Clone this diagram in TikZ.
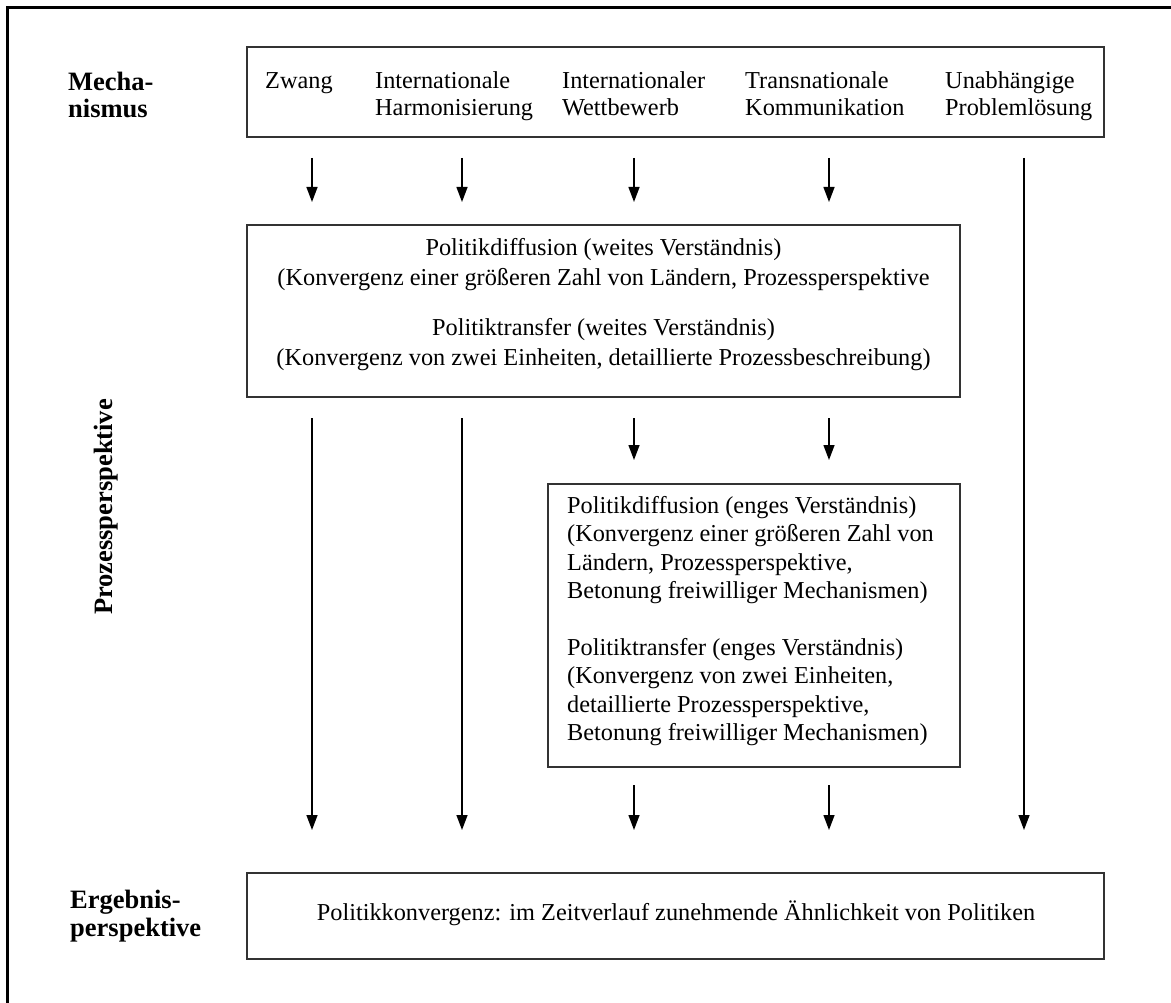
\documentclass[tikz,border=0pt]{standalone}
\usepackage{fontspec}
\setmainfont{Liberation Serif}
\usetikzlibrary{arrows.meta}
\newcommand\fsz{\fontsize{24.3}{28.4}\selectfont}
\newcommand\fszm{\fontsize{24.3}{27}\selectfont}
\newcommand\fszw{\fontsize{24.3}{30}\selectfont}
\newcommand\fszb{\fontsize{26.5}{27.5}\selectfont\bfseries}
\begin{document}
\begin{tikzpicture}[x=1pt,y=-1pt,
  box/.style={draw=black!80, line width=1.3pt, inner sep=0pt, fill=white},
  txt/.style={font=\fsz, align=left, inner sep=0pt, anchor=west},
  mtxt/.style={font=\fszm, align=left, inner sep=0pt, anchor=west},
  lbl/.style={font=\fszb, align=left, inner sep=0pt, anchor=west},
  arr/.style={line width=1.4pt, -{Triangle[length=15pt,width=11pt]}}]
\useasboundingbox (0,0) rectangle (1171,1003);
\draw[line width=3pt] (7,1010) -- (7,8) -- (1180,8);

% boxes
\node[box, minimum width=857pt, minimum height=90pt] (mech) at (675.5,92) {};
\node[box, minimum width=713pt, minimum height=172pt] (wide) at (603.5,311) {};
\node[box, minimum width=412pt, minimum height=283pt] (narrow) at (754,625.5) {};
\node[box, minimum width=857pt, minimum height=86pt] (res) at (675.5,916) {};

% row labels
\node[lbl] (lmech) at (68,95) {Mecha-\\nismus};
\node[lbl, anchor=center, rotate=90] (lproc) at (106,507) {Prozessperspektive};
\node[lbl] (lres) at (70,916) {Ergebnis-\\perspektive};

% mechanisms
\node[mtxt] (m1) at (265,97) {\strut Zwang\\\strut};
\node[mtxt] (m2) at (375,97) {\strut Internationale\\\strut Harmonisierung};
\node[mtxt] (m3) at (562,97) {\strut Internationaler\\\strut Wettbewerb};
\node[mtxt] (m4) at (745,97) {\strut Transnationale\\\strut Kommunikation};
\node[mtxt] (m5) at (945,97) {\strut Unabhängige\\\strut Problemlösung};

% wide box text
\node[txt, font=\fszw, align=center, anchor=center] (wt) at (603.5,304.5) {Politikdiffusion (weites Verständnis)\\(Konvergenz einer größeren Zahl von Ländern, Prozessperspektive\\[20pt]Politiktransfer (weites Verständnis)\\(Konvergenz von zwei Einheiten, detaillierte Prozessbeschreibung)};

% narrow box text
\node[txt] (nt) at (567,621) {Politikdiffusion (enges Verständnis)\\(Konvergenz einer größeren Zahl von\\Ländern, Prozessperspektive,\\Betonung freiwilliger Mechanismen)\\[28.4pt]Politiktransfer (enges Verständnis)\\(Konvergenz von zwei Einheiten,\\detaillierte Prozessperspektive,\\Betonung freiwilliger Mechanismen)};

% result text
\node[txt, anchor=center] (rt) at (676,913) {Politikkonvergenz: im Zeitverlauf zunehmende Ähnlichkeit von Politiken};

% arrow coordinates
\foreach \n/\x in {1/312,2/462,3/634,4/829,5/1024}{
  \coordinate (a\n s) at (\x,158);
  \coordinate (a\n e) at (\x,202);
  \coordinate (b\n s) at (\x,418);
  \coordinate (b\n e) at (\x,460);
  \coordinate (c\n s) at (\x,785);
  \coordinate (c\n e) at (\x,830);
}
% row 1
\draw[arr] (a1s) -- (a1e);
\draw[arr] (a2s) -- (a2e);
\draw[arr] (a3s) -- (a3e);
\draw[arr] (a4s) -- (a4e);
\draw[arr] (a5s) -- (c5e);
% row 2
\draw[arr] (b1s) -- (c1e);
\draw[arr] (b2s) -- (c2e);
\draw[arr] (b3s) -- (b3e);
\draw[arr] (b4s) -- (b4e);
% row 3
\draw[arr] (c3s) -- (c3e);
\draw[arr] (c4s) -- (c4e);
\end{tikzpicture}
\end{document}
